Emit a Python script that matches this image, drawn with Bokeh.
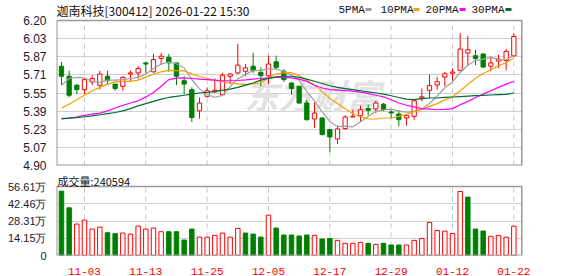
from bokeh.plotting import figure
from bokeh.layouts import column
from bokeh.models import Range1d, FixedTicker, ColumnDataSource
from bokeh.core.properties import value
from bokeh.embed import file_html
from bokeh.resources import INLINE

# ---------------- data ----------------
dates = ["10-29", "10-30", "10-31",
         "11-03", "11-04", "11-05", "11-06", "11-07",
         "11-10", "11-11", "11-12", "11-13", "11-14",
         "11-17", "11-18", "11-19", "11-20", "11-21",
         "11-24", "11-25", "11-26", "11-27", "11-28",
         "12-01", "12-02", "12-03", "12-04", "12-05",
         "12-08", "12-09", "12-10", "12-11", "12-12",
         "12-15", "12-16", "12-17", "12-18", "12-19",
         "12-22", "12-23", "12-24", "12-25", "12-26",
         "12-29", "12-30", "12-31",
         "01-05", "01-06", "01-07", "01-08", "01-09",
         "01-12", "01-13", "01-14", "01-15", "01-16",
         "01-19", "01-20", "01-21", "01-22"]

open_ = [5.79, 5.70, 5.62, 5.58, 5.65, 5.62, 5.70, 5.63, 5.61, 5.72,
         5.73, 5.82, 5.74, 5.86, 5.87, 5.82, 5.66, 5.58, 5.39, 5.52,
         5.56, 5.535, 5.70, 5.73, 5.745, 5.79, 5.735, 5.705, 5.83, 5.745,
         5.64, 5.61, 5.46, 5.317, 5.326, 5.222, 5.138, 5.231, 5.335, 5.347,
         5.41, 5.407, 5.45, 5.38, 5.362, 5.326, 5.341, 5.505, 5.574, 5.622,
         5.693, 5.728, 5.753, 5.908, 5.884, 5.899, 5.79, 5.836, 5.842, 5.884]
high = [5.83, 5.75, 5.63, 5.68, 5.71, 5.75, 5.75, 5.63, 5.70, 5.75,
        5.79, 5.83, 5.90, 5.91, 5.90, 5.82, 5.70, 5.60, 5.51, 5.60,
        5.68, 5.73, 5.73, 5.99, 5.81, 5.91, 5.78, 5.885, 5.885, 5.765,
        5.645, 5.61, 5.49, 5.466, 5.332, 5.228, 5.258, 5.35, 5.40, 5.437,
        5.446, 5.48, 5.46, 5.395, 5.395, 5.35, 5.49, 5.59, 5.714, 5.693,
        5.738, 5.768, 6.087, 6.063, 5.938, 5.908, 5.878, 5.893, 5.944, 6.087]
low = [5.62, 5.51, 5.54, 5.54, 5.62, 5.58, 5.62, 5.57, 5.57, 5.66,
       5.68, 5.73, 5.73, 5.80, 5.74, 5.62, 5.54, 5.29, 5.32, 5.51,
       5.55, 5.53, 5.63, 5.72, 5.70, 5.73, 5.61, 5.63, 5.765, 5.65,
       5.535, 5.455, 5.305, 5.237, 5.17, 5.022, 5.094, 5.222, 5.335, 5.29,
       5.35, 5.37, 5.386, 5.32, 5.252, 5.258, 5.31, 5.475, 5.505, 5.58,
       5.61, 5.66, 5.744, 5.80, 5.80, 5.774, 5.744, 5.774, 5.753, 5.872]
close = [5.70, 5.53, 5.58, 5.67, 5.68, 5.72, 5.66, 5.59, 5.69, 5.73,
         5.77, 5.81, 5.85, 5.88, 5.82, 5.70, 5.63, 5.33, 5.46, 5.57,
         5.575, 5.71, 5.72, 5.80, 5.775, 5.75, 5.705, 5.81, 5.78, 5.67,
         5.59, 5.46, 5.31, 5.37, 5.177, 5.156, 5.228, 5.335, 5.341, 5.40,
         5.395, 5.46, 5.40, 5.371, 5.311, 5.35, 5.481, 5.515, 5.616, 5.651,
         5.723, 5.738, 5.944, 5.938, 5.86, 5.783, 5.82, 5.854, 5.923, 6.057]

ma5 = [5.62, 5.68, 5.69, 5.685, 5.655, 5.645, 5.665, 5.666, 5.67, 5.68,
       5.69, 5.72, 5.77, 5.81, 5.827, 5.812, 5.776, 5.671, 5.587, 5.537,
       5.512, 5.529, 5.608, 5.676, 5.717, 5.752, 5.75, 5.768, 5.764, 5.743,
       5.711, 5.662, 5.562, 5.48, 5.381, 5.295, 5.248, 5.253, 5.247, 5.292,
       5.34, 5.386, 5.399, 5.405, 5.387, 5.378, 5.383, 5.406, 5.455, 5.523,
       5.597, 5.649, 5.734, 5.799, 5.841, 5.853, 5.869, 5.851, 5.848, 5.887]
ma10 = [5.416, 5.45, 5.49, 5.53, 5.57, 5.60, 5.63, 5.65, 5.655, 5.655,
        5.665, 5.692, 5.718, 5.74, 5.753, 5.751, 5.748, 5.721, 5.698, 5.682,
        5.662, 5.653, 5.64, 5.632, 5.627, 5.632, 5.64, 5.688, 5.72, 5.73,
        5.732, 5.706, 5.665, 5.622, 5.562, 5.503, 5.455, 5.408, 5.364, 5.337,
        5.318, 5.317, 5.326, 5.326, 5.34, 5.359, 5.385, 5.403, 5.43, 5.455,
        5.488, 5.516, 5.57, 5.627, 5.682, 5.725, 5.759, 5.793, 5.824, 5.864]
ma20 = [5.317, 5.325, 5.335, 5.35, 5.36, 5.37, 5.39, 5.415, 5.44, 5.46,
        5.48, 5.515, 5.555, 5.61, 5.67, 5.684, 5.685, 5.68, 5.675, 5.67,
        5.665, 5.66, 5.66, 5.662, 5.668, 5.675, 5.68, 5.685, 5.69, 5.69,
        5.685, 5.675, 5.654, 5.62, 5.595, 5.58, 5.576, 5.572, 5.566, 5.558,
        5.545, 5.53, 5.515, 5.49, 5.46, 5.44, 5.425, 5.41, 5.405, 5.40,
        5.403, 5.41, 5.445, 5.475, 5.51, 5.54, 5.57, 5.60, 5.63, 5.654]
ma30 = [5.32, 5.325, 5.33, 5.337, 5.345, 5.355, 5.365, 5.375, 5.39, 5.41,
        5.435, 5.455, 5.475, 5.495, 5.51, 5.52, 5.53, 5.54, 5.55, 5.556,
        5.565, 5.575, 5.585, 5.60, 5.62, 5.64, 5.665, 5.68, 5.695, 5.70,
        5.70, 5.69, 5.675, 5.655, 5.635, 5.615, 5.60, 5.59, 5.58, 5.57,
        5.56, 5.55, 5.54, 5.525, 5.51, 5.495, 5.49, 5.50, 5.505, 5.505,
        5.51, 5.514, 5.518, 5.522, 5.526, 5.528, 5.532, 5.535, 5.538, 5.55]

# volume in 万 (10k shares); last value 240594
volume = [52.8, 39.1, 25.8, 29.0, 21.7, 23.3, 18.7, 17.9, 18.4, 17.6,
          24.1, 21.7, 22.5, 19.5, 19.5, 19.5, 12.7, 21.7, 15.1, 15.0,
          16.5, 18.4, 15.0, 22.2, 18.4, 17.6, 15.1, 33.1, 22.5, 16.8,
          16.8, 16.0, 16.8, 16.5, 13.5, 14.0, 12.4, 10.0, 10.0, 10.7,
          10.0, 9.1, 10.0, 8.6, 8.6, 8.6, 12.4, 14.0, 27.1, 20.6,
          20.0, 18.1, 52.5, 47.9, 21.7, 20.1, 15.7, 16.5, 15.0, 24.0594]
vol_dir = "ggrrrrggrrrrrrggggrrrrrrgggrgggggrggrrrrgrgggrrrrrrrrgggrrrr"

price_ticks = [4.90, 5.0625, 5.225, 5.3875, 5.55, 5.7125, 5.875, 6.0375, 6.20]
price_tick_labels = ["4.90", "5.07", "5.23", "5.39", "5.55", "5.71", "5.87", "6.03", "6.20"]
vol_ticks = [0, 14.1525, 28.305, 42.4575, 56.61]
vol_tick_labels = ["0", "14.15万", "28.31万", "42.46万", "56.61万"]
date_tick_labels = ["11-03", "11-13", "11-25", "12-05", "12-17", "12-29", "01-12", "01-22"]

title_text = "迦南科技[300412] 2026-01-22 15:30"
vol_title = "成交量:240594"
ma_names = ["5PMA", "10PMA", "20PMA", "30PMA"]

# ---------------- styling / layout ----------------
W = 578
RED = "#ff0000"
GREEN = "#008000"
MA_COLORS = ["#a0a0a0", "#f5a000", "#ff00ff", "#006e30"]
GRID = "#d0d0d0"
VGRID = "#c8c8c8"
BORDER = "#9a9a9a"
TEXT = "#111111"
LABEL = "#1a1a2e"

X0, X1 = -0.65, 60.13
FRAME_L, FRAME_W = 56, 466
FRAME_R = W - FRAME_L - FRAME_W
PX_PER_X = FRAME_W / (X1 - X0)

# price panel: canvas rows 0..172, plot box from y=20 to y=165
P_TOP_PX, P_BOT_PX, P_FIG_H = 20, 165, 172
PMIN, PMAX = price_ticks[0], price_ticks[-1]
P_UNIT = (PMAX - PMIN) / (P_BOT_PX - P_TOP_PX)
# volume panel: canvas rows 172..276, plot box from y=186 to y=255
V_ORIGIN, V_TOP_PX, V_BOT_PX, V_AXIS_H = 172, 186, 255, 21
VMAX = vol_ticks[-1]
V_UNIT = VMAX / (V_BOT_PX - V_TOP_PX)

def px_x(px):
    return X0 + (px - FRAME_L) / PX_PER_X

def py_price(py):
    return PMAX - (py - P_TOP_PX) * P_UNIT

def py_vol(py):
    return (V_BOT_PX - py) * V_UNIT

idx = list(range(len(dates)))
up = [c >= o for o, c in zip(open_, close)]
src = ColumnDataSource(dict(
    x=idx, open=open_, high=high, low=low, close=close,
    top=[max(o, c) for o, c in zip(open_, close)],
    bottom=[min(o, c) for o, c in zip(open_, close)],
    line=[RED if u else GREEN for u in up],
    fill=["#ffffff" if u else GREEN for u in up],
))
vsrc = ColumnDataSource(dict(
    x=idx, vol=volume,
    line=[RED if d == "r" else GREEN for d in vol_dir],
    fill=["#ffffff" if d == "r" else GREEN for d in vol_dir],
))
xtick_pos = [dates.index(d) for d in date_tick_labels]


def draw_box(f, ylo, yhi):
    # plot-box borders (the figure frame extends above the box for captions)
    f.segment(x0=[X0, X1, X0, X0], y0=[ylo, ylo, yhi, ylo],
              x1=[X0, X1, X1, X1], y1=[yhi, yhi, yhi, ylo],
              line_color=BORDER, line_width=[2, 3, 1.5, 2])


def style_yaxis(f, ticks, labels, size):
    f.yaxis.ticker = FixedTicker(ticks=ticks)
    f.yaxis.major_label_overrides = {t: l for t, l in zip(ticks, labels)}
    f.yaxis.major_tick_line_color = None
    f.yaxis.minor_tick_line_color = None
    f.yaxis.axis_line_color = None
    f.yaxis.major_label_text_font = "Liberation Sans"
    f.yaxis.major_label_text_font_size = size
    f.yaxis.major_label_text_color = LABEL
    f.yaxis.major_label_standoff = 4
    f.ygrid.ticker = FixedTicker(ticks=ticks)
    f.ygrid.grid_line_color = GRID
    f.xgrid.visible = False


# ---------------- price panel ----------------
p = figure(frame_width=FRAME_W, frame_height=P_BOT_PX,
           x_range=Range1d(X0, X1), y_range=Range1d(PMIN, py_price(0)),
           x_axis_location=None, output_backend="svg", toolbar_location=None,
           min_border_left=FRAME_L, min_border_right=FRAME_R,
           min_border_top=0, min_border_bottom=P_FIG_H - P_BOT_PX)
p.title.visible = False
p.outline_line_color = None
style_yaxis(p, price_ticks, price_tick_labels, "12px")

# dashed date grid inside the plot box
p.segment(x0=xtick_pos, y0=[PMIN] * len(xtick_pos), x1=xtick_pos, y1=[PMAX] * len(xtick_pos),
          line_color=VGRID, line_dash="5 4", line_width=1)

# watermark
p.text(x=[px_x(312)], y=[py_price(94)], text=["东方财富"], text_font=value("Noto Sans CJK SC"),
       text_font_size="34px", text_font_style="bold italic", text_color="#e2e2e2",
       text_align="center", text_baseline="middle")

p.segment(x0="x", y0="high", x1="x", y1="low", line_color="line", line_width=1, source=src)
p.vbar(x="x", top="top", bottom="bottom", width=0.56, fill_color="fill",
       line_color="line", line_width=1, source=src)

for arr, col in zip([ma5, ma10, ma20, ma30], MA_COLORS):
    p.line(idx, arr, line_color=col, line_width=1.2)

draw_box(p, PMIN, PMAX)

# title and MA legend above the plot box
p.text(x=[px_x(56)], y=[py_price(10)], text=[title_text], text_font=value("Noto Sans CJK SC"),
       text_font_size="12px", text_color=TEXT, text_baseline="middle")
legend_text_px = [338, 380, 425, 471]
legend_sq_px = [368, 416, 462, 508]
p.text(x=[px_x(t) for t in legend_text_px], y=[py_price(9)] * 4, text=ma_names,
       text_font=value("Liberation Mono"), text_font_size="11px", text_color=TEXT,
       text_baseline="middle")
p.rect(x=[px_x(t) for t in legend_sq_px], y=[py_price(9)] * 4, width=6, height=3,
       width_units="screen", height_units="screen", fill_color=MA_COLORS, line_color=None)

# ---------------- volume panel ----------------
v = figure(frame_width=FRAME_W, frame_height=V_BOT_PX - V_ORIGIN,
           x_range=p.x_range, y_range=Range1d(0, py_vol(V_ORIGIN)),
           output_backend="svg", toolbar_location=None,
           min_border_left=FRAME_L, min_border_right=FRAME_R,
           min_border_top=0, min_border_bottom=V_AXIS_H)
v.title.visible = False
v.outline_line_color = None
style_yaxis(v, vol_ticks, vol_tick_labels, "11px")

v.xaxis.ticker = FixedTicker(ticks=xtick_pos)
v.xaxis.major_label_overrides = {i: d for i, d in zip(xtick_pos, date_tick_labels)}
v.xaxis.major_tick_line_color = None
v.xaxis.minor_tick_line_color = None
v.xaxis.axis_line_color = None
v.xaxis.major_label_text_font = "Liberation Mono"
v.xaxis.major_label_text_font_size = "11px"
v.xaxis.major_label_text_color = RED
v.xaxis.major_label_standoff = 6

v.segment(x0=xtick_pos, y0=[0] * len(xtick_pos), x1=xtick_pos, y1=[VMAX] * len(xtick_pos),
          line_color=VGRID, line_dash="5 4", line_width=1)

v.vbar(x="x", top="vol", bottom=0, width=0.58, fill_color="fill",
       line_color="line", line_width=1, source=vsrc)

draw_box(v, 0, VMAX)

v.text(x=[px_x(57)], y=[py_vol(180.5)], text=[vol_title], text_font=value("Noto Sans CJK SC"),
       text_font_size="11px", text_color=TEXT, text_baseline="middle")

layout = column(p, v, spacing=0)
open("out.html", "w").write(file_html(layout, INLINE))
